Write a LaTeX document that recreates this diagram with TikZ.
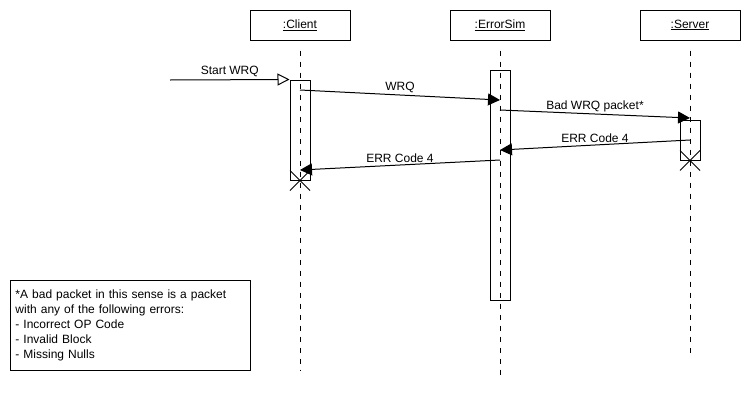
\documentclass[tikz,border=0pt]{standalone}
\usepackage{fontspec}
\setmainfont{Liberation Sans}
\usetikzlibrary{arrows.meta,positioning}

\tikzset{
    obj/.style={draw, minimum width=100pt, minimum height=30pt, inner sep=0pt},
    life/.style={dash pattern=on 5pt off 6pt},
    act/.style={draw, minimum width=20pt, inner sep=0pt},
    msg/.style={-{Triangle[length=12pt,width=12pt]}},
    found/.style={-{Triangle[open,length=12pt,width=12pt]}},
    lbl/.style={above, inner sep=2pt}
}

\begin{document}
\begin{tikzpicture}[x=1pt, y=-1pt, line width=1pt, font=\fontsize{12}{14}\selectfont]
            \useasboundingbox (0,0) rectangle (750,410);

            \node[obj] (client) at (300,25) {\underline{:Client}};
            \node[obj] (errsim) at (500,25) {\underline{:ErrorSim}};
            \node[obj] (server) at (690,25) {\underline{:Server}};

            \coordinate (clientEnd) at (300,370);
            \coordinate (errsimEnd) at (500,380);
            \coordinate (serverEnd) at (690,356);

            \draw[life] ([yshift=-10pt]client.south) -- (clientEnd);
            \draw[life] ([yshift=-10pt]errsim.south) -- (errsimEnd);
            \draw[life] ([yshift=-10pt]server.south) -- (serverEnd);

            \node[act, minimum height=100pt] (clientAct) at (300,130) {};
            \node[act, minimum height=230pt] (errsimAct) at (500,185) {};
            \node[act, minimum height=40pt] (serverAct) at (690,140) {};

            \draw (clientAct.south) ++(-10,-10) -- ++(20,20)
                  (clientAct.south) ++(-10,10) -- ++(20,-20);
            \draw (serverAct.south) ++(-10,-10) -- ++(20,20)
                  (serverAct.south) ++(-10,10) -- ++(20,-20);

            \coordinate (start) at (170,80);
            \coordinate (c1) at (300,90);
            \coordinate (e1) at (500,100);
            \coordinate (e2) at (500,110);
            \coordinate (s1) at (690,118);
            \coordinate (s2) at (690,140);
            \coordinate (e3) at (500,150);
            \coordinate (e4) at (500,160);
            \coordinate (c2) at (300,170);

            \draw[found] (start) -- (clientAct.north west) node[lbl, midway] {Start WRQ};
            \draw[msg] (c1) -- (e1) node[lbl, midway] {WRQ};
            \draw[msg] (e2) -- (s1) node[lbl, midway] {Bad WRQ packet*};
            \draw[msg] (s2) -- (e3) node[lbl, midway] {ERR Code 4};
            \draw[msg] (e4) -- (c2) node[lbl, midway] {ERR Code 4};

            \node[draw, anchor=north west, minimum width=240pt, minimum height=90pt,
                  text width=230pt, align=left, inner xsep=5pt,
                  font=\fontsize{12}{15}\selectfont] (note) at (10,280)
                {*A bad packet in this sense is a packet\\
                 with any of the following errors:\\
                 - Incorrect OP Code\\
                 - Invalid Block\\
                 - Missing Nulls};
        \end{tikzpicture}
\end{document}
